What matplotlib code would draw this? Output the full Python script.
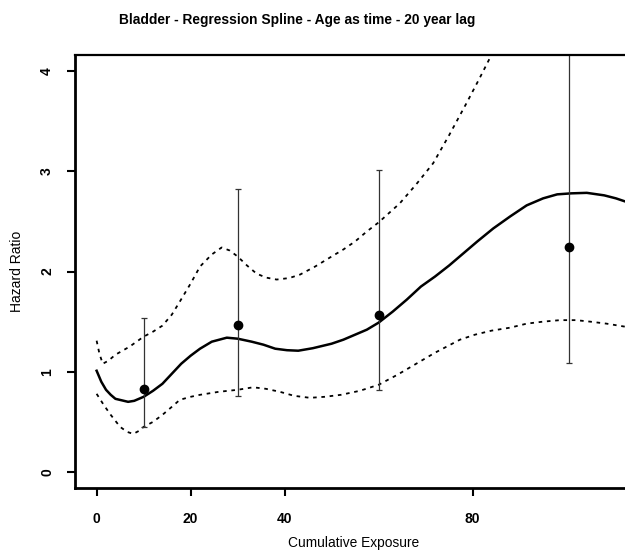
import matplotlib
matplotlib.use("Agg")
import matplotlib.pyplot as plt

# ── Data ─────────────────────────────────────────────────────────────────────
fit_x = [0, 1, 2, 3, 4, 6.7, 8, 10, 12, 14, 16, 18, 20, 22, 24.5, 27.7, 30, 33,
         35.5, 38, 40.5, 42.9, 46, 50, 52.5, 55, 57.5, 60, 63, 66, 69, 72, 75,
         78, 81, 84.4, 88, 91.5, 95, 98, 101, 104.3, 108, 110.5, 112.4]
fit_y = [1.01, 0.90, 0.82, 0.77, 0.73, 0.70, 0.71, 0.75, 0.81, 0.88, 0.98, 1.08,
         1.16, 1.23, 1.30, 1.34, 1.33, 1.30, 1.27, 1.23, 1.215, 1.21, 1.235, 1.28,
         1.32, 1.37, 1.42, 1.49, 1.60, 1.72, 1.85, 1.95, 2.06, 2.18, 2.30, 2.43,
         2.55, 2.66, 2.73, 2.77, 2.78, 2.785, 2.76, 2.73, 2.70]

upper_x = [0, 0.6, 1.3, 2.5, 4, 5.5, 7, 8.5, 10, 12, 14, 16, 17.7, 20, 22, 24.5,
           26.6, 28.3, 30, 32, 34, 36, 38.3, 41, 43.3, 46.5, 50, 52.5, 55, 57.5,
           60, 64.5, 68, 71.6, 75, 78.7, 81.5, 84.0]
upper_y = [1.31, 1.18, 1.08, 1.11, 1.17, 1.21, 1.25, 1.30, 1.35, 1.40, 1.46, 1.57,
           1.70, 1.88, 2.05, 2.17, 2.24, 2.21, 2.15, 2.06, 1.98, 1.94, 1.92, 1.935,
           1.97, 2.05, 2.15, 2.22, 2.30, 2.40, 2.49, 2.68, 2.87, 3.08, 3.36, 3.68,
           3.93, 4.16]

lower_x = [0, 1.5, 3, 5, 6.5, 7.8, 9, 10, 12, 14, 16, 17.7, 20, 22, 26, 30, 33.3,
           36, 39, 42, 45.4, 48.5, 52, 56, 60, 64, 68, 72, 77.3, 80.5, 84, 88,
           91.5, 95, 98.6, 102, 105, 108.5, 112.4]
lower_y = [0.78, 0.67, 0.57, 0.45, 0.40, 0.38, 0.41, 0.45, 0.50, 0.57, 0.65, 0.72,
           0.75, 0.77, 0.80, 0.82, 0.845, 0.83, 0.80, 0.76, 0.74, 0.75, 0.77, 0.81,
           0.87, 0.97, 1.08, 1.19, 1.32, 1.37, 1.41, 1.44, 1.48, 1.50, 1.515,
           1.515, 1.50, 1.48, 1.45]

# categorical estimates with CIs
pt_x = [10, 30, 60, 100.5]
pt_hr = [0.83, 1.47, 1.565, 2.24]
pt_lo = [0.45, 0.76, 0.82, 1.09]
pt_hi = [1.54, 2.82, 3.01, 4.6]

x_ticks = [0, 20, 40, 80]
y_ticks = [0, 1, 2, 3, 4]

plt.rcParams["font.family"] = ["Liberation Sans", "DejaVu Sans"]

fig = plt.figure(figsize=(6.25, 5.52), dpi=100)
ax = fig.add_axes([0.12, 0.1159, 0.8896, 0.7844])

ax.plot(fit_x, fit_y, color="black", lw=1.8)
ax.plot(upper_x, upper_y, color="black", lw=1.3, dashes=(2, 2.6))
ax.plot(lower_x, lower_y, color="black", lw=1.3, dashes=(2, 2.6))

lo_err = [h - l for h, l in zip(pt_hr, pt_lo)]
hi_err = [u - h for h, u in zip(pt_hr, pt_hi)]
ax.errorbar(pt_x, pt_hr, yerr=[lo_err, hi_err], fmt="o", color="black",
            ecolor="#333333", elinewidth=0.9, capsize=2.5, capthick=0.9, ms=6)

ax.set_xlim(-4.6, 113.7)
ax.set_ylim(-0.16, 4.16)
ax.set_xticks(x_ticks)
ax.set_yticks(y_ticks)
ax.set_yticklabels([str(t) for t in y_ticks], rotation=90, va="center")
ax.tick_params(axis="both", length=6, width=1.5, labelsize=10, direction="out")
ax.tick_params(axis="x", pad=11)
ax.tick_params(axis="y", pad=9)
for lab in ax.get_xticklabels() + ax.get_yticklabels():
    lab.set_fontweight("bold")

ax.spines["right"].set_visible(False)
for s in ["left", "bottom"]:
    ax.spines[s].set_linewidth(2)
ax.spines["top"].set_linewidth(1.6)

fig.text(0.476, 0.964, "Bladder - Regression Spline - Age as time - 20 year lag",
         ha="center", va="center", fontsize=9.9, fontweight="bold")
fig.text(0.565, 0.009, "Cumulative Exposure", ha="center", va="baseline", fontsize=9.9)
fig.text(0.027, 0.509, "Hazard Ratio", ha="center", va="center", rotation=90, fontsize=10)

fig.savefig("out.png", dpi=100)
